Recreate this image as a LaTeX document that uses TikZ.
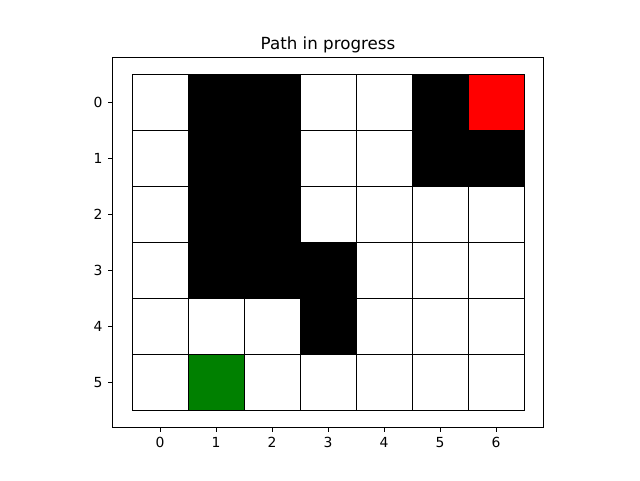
\documentclass[tikz,border=0pt]{standalone}
\usepackage{fontspec}
\setmainfont{DejaVu Sans}
\definecolor{mplgreen}{HTML}{008000}
\definecolor{mplred}{HTML}{FF0000}
\begin{document}
\begin{tikzpicture}[x=1pt, y=-1pt,
    cell/.style={draw=black, line width=1pt},
    ticklabel/.style={inner sep=0pt, font=\fontsize{13.9}{16}\selectfont}]
  \useasboundingbox (0,0) rectangle (640,480);

  % grid of cells
  \foreach \c in {0,...,6}
    \foreach \r in {0,...,5}
      \draw[cell, fill=white] (132+56*\c, 74.4+56*\r) rectangle ++(56,56);

  % walls, goal and start
  \foreach \c/\r/\col in {1/0/black, 2/0/black, 5/0/black, 6/0/mplred,
                          1/1/black, 2/1/black, 5/1/black, 6/1/black,
                          1/2/black, 2/2/black,
                          1/3/black, 2/3/black, 3/3/black,
                          3/4/black,
                          1/5/mplgreen}
    \draw[cell, fill=\col] (132+56*\c, 74.4+56*\r) rectangle ++(56,56);

  % axes frame
  \draw[line width=0.8pt] (112.4,57.6) rectangle (543.6,427.2);

  % ticks
  \foreach \c in {0,...,6} {
    \draw[line width=0.8pt] (160+56*\c, 427.2) -- ++(0,4.9);
    \node[ticklabel, anchor=north] (xlab-\c) at (160+56*\c, 437) {\c};
  }
  \foreach \r in {0,...,5} {
    \draw[line width=0.8pt] (112.4, 102.4+56*\r) -- ++(-4.9,0);
    \node[ticklabel, anchor=east] (ylab-\r) at (102.7, 102.4+56*\r) {\r};
  }

  \node[inner sep=0pt, anchor=base, font=\fontsize{16.7}{20}\selectfont]
    (title) at (328, 49.3) {Path in progress};
\end{tikzpicture}
\end{document}
